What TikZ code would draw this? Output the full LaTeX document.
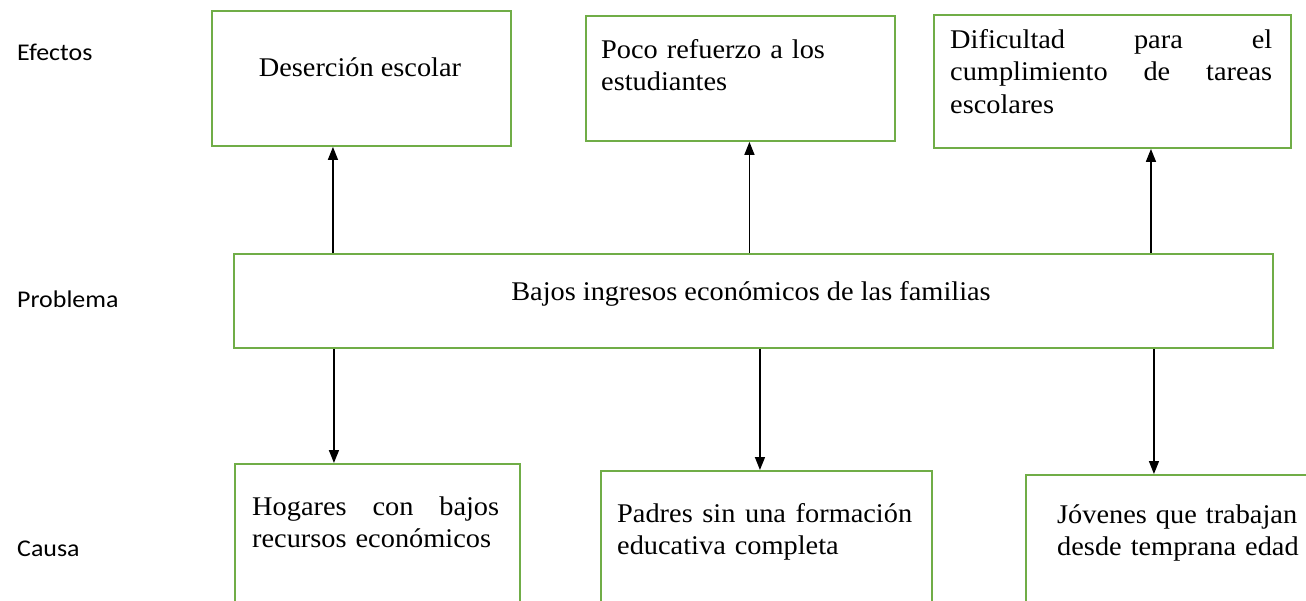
\documentclass[tikz,border=0pt]{standalone}
\usepackage{fontspec}
\setmainfont{Liberation Serif}[FakeStretch=1.05]
\newfontfamily\labfont{Carlito}[FakeStretch=1.08]
\usetikzlibrary{arrows.meta}
\definecolor{boxgreen}{RGB}{112,173,71}
\newcommand\fullline[1]{\leavevmode\hbox to \linewidth{#1}}
\begin{document}
\begin{tikzpicture}[x=1pt,y=-1pt,
  gbox/.style={draw=boxgreen,line width=1.9pt,rectangle,inner sep=0pt,anchor=north west},
  txt/.style={inner sep=0pt,font=\fontsize{27}{32.5}\selectfont},
  mtxt/.style={txt,anchor=base west,align=left},
  lbl/.style={inner sep=0pt,anchor=base west,font=\labfont\fontsize{24}{28}\selectfont},
  arr/.style={line width=1.5pt,-{Triangle[length=13pt,width=10pt]}}]
\useasboundingbox (0,0) rectangle (1306,600);
\clip (0,0) rectangle (1306,600);
% side labels
\node[lbl] (lef) at (17,60) {Efectos};
\node[lbl] (lpr) at (17,307) {Problema};
\node[lbl] (lca) at (17,556) {Causa};
% effect boxes
\node[gbox,minimum width=299pt,minimum height=135pt] (e1) at (211,10) {};
\node[gbox,minimum width=309pt,minimum height=125pt] (e2) at (585,15) {};
\node[gbox,minimum width=357pt,minimum height=133pt] (e3) at (933,14) {};
% problem box
\node[gbox,minimum width=1039pt,minimum height=94pt] (pb) at (233,253) {};
% cause boxes (run past the lower edge)
\node[gbox,minimum width=285pt,minimum height=170pt] (c1) at (234,463) {};
\node[gbox,minimum width=331pt,minimum height=170pt] (c2) at (600,470) {};
\node[gbox,minimum width=320pt,minimum height=170pt] (c3) at (1025,474) {};
% texts
\node[txt,anchor=base] (te1) at (360,76) {Deserción escolar};
\node[mtxt,text width=285pt] (te2) at (601,58) {Poco refuerzo a los\\estudiantes};
\node[mtxt,text width=322pt] (te3) at (950,48)
  {\fullline{Dificultad\hfill para\hfill el}\\\fullline{cumplimiento\hfill de\hfill tareas}\\escolares};
\node[txt,anchor=base] (tpb) at (751,300) {Bajos ingresos económicos de las familias};
\node[mtxt,text width=247pt] (tc1) at (252,515)
  {\fullline{Hogares\hfill con\hfill bajos}\\recursos económicos};
\node[mtxt,text width=295pt] (tc2) at (617,522)
  {\fullline{Padres\hfill sin\hfill una\hfill formación}\\educativa completa};
\node[mtxt,text width=260pt] (tc3) at (1057,523) {Jóvenes que trabajan\\desde temprana edad};
% arrows up (problem -> effects)
\draw[arr] ([xshift=-28.5pt]e1.south |- pb.north) -- ([xshift=-28.5pt]e1.south);
\draw[arr] ([xshift=9pt]e2.south |- pb.north) -- ([xshift=9pt]e2.south);
\draw[arr] ([xshift=38.5pt]e3.south |- pb.north) -- ([xshift=38.5pt]e3.south);
% arrows down (problem -> causes)
\draw[arr] ([xshift=-43.5pt]c1.north |- pb.south) -- ([xshift=-43.5pt]c1.north);
\draw[arr] ([xshift=-6.5pt]c2.north |- pb.south) -- ([xshift=-6.5pt]c2.north);
\draw[arr] ([xshift=-32pt]c3.north |- pb.south) -- ([xshift=-32pt]c3.north);
\end{tikzpicture}
\end{document}
